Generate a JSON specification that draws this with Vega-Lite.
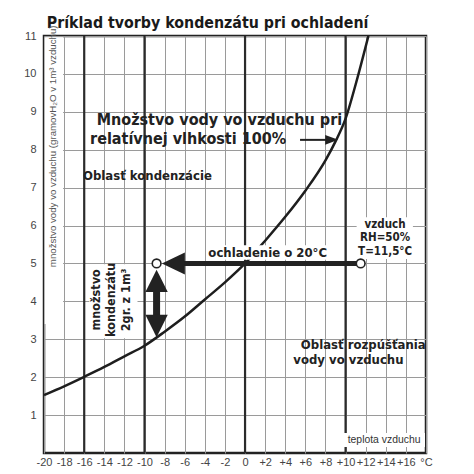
{
  "$schema": "https://vega.github.io/schema/vega-lite/v6.json",
  "width": 382,
  "height": 417,
  "autosize": {"type": "none"},
  "padding": {"left": 44, "top": 36, "right": 48, "bottom": 21},
  "background": "white",
  "config": {
    "view": {"stroke": "#222", "strokeWidth": 2.5},
    "axis": {
      "grid": true,
      "gridColor": "#9a9a9a",
      "gridWidth": 1,
      "ticks": false,
      "domain": false,
      "labelFont": "Liberation Sans Narrow, Liberation Sans",
      "labelFontSize": 11,
      "labelColor": "#444",
      "labelOverlap": false,
      "labelFlush": false,
      "title": null
    }
  },
  "datasets": {
    "curve": [
      {"t": -20, "v": 1.53}, {"t": -18, "v": 1.76}, {"t": -16, "v": 2.01},
      {"t": -14, "v": 2.27}, {"t": -12, "v": 2.55}, {"t": -10, "v": 2.83},
      {"t": -8, "v": 3.2}, {"t": -6, "v": 3.6}, {"t": -4, "v": 4.05},
      {"t": -2, "v": 4.5}, {"t": 0, "v": 5.0}, {"t": 2, "v": 5.6},
      {"t": 4, "v": 6.23}, {"t": 6, "v": 6.92}, {"t": 8, "v": 7.72},
      {"t": 9, "v": 8.22}, {"t": 10, "v": 8.82}, {"t": 11, "v": 9.72},
      {"t": 12.27, "v": 11.0}
    ],
    "thick": [{"t": -16}, {"t": -10}, {"t": 0}, {"t": 10}],
    "boxes": [
      {"a": -19.93, "b": -18.1, "lo": 3.4, "hi": 10.97},
      {"a": -15.5, "b": -10.7, "lo": 3.03, "hi": 4.98},
      {"a": 9.8, "b": 17.9, "lo": 0.16, "hi": 0.53},
      {"a": 11.1, "b": 16.7, "lo": 5.12, "hi": 6.22},
      {"a": -3.88, "b": 8.1, "lo": 5.1, "hi": 5.48}
    ],
    "heading": [{"t": -19.73, "v": 11.21, "label": "Príklad tvorby kondenzátu pri ochladení"}],
    "bigText": [
      {"t": -14.76, "v": 8.79, "label": "Množstvo vody vo vzduchu pri"},
      {"t": -15.42, "v": 8.28, "label": "relatívnej  vlhkosti 100%"}
    ],
    "midText": [
      {"t": -16.12, "v": 7.31, "label": "Oblasť kondenzácie"},
      {"t": -3.65, "v": 5.28, "label": "ochladenie o 20°C"},
      {"t": 5.55, "v": 2.85, "label": "Oblasť rozpúšťania"},
      {"t": 4.8, "v": 2.45, "label": "vody vo vzduchu"}
    ],
    "airText": [{"t": 13.93, "v": 6.02, "label": "vzduch\nRH=50%\nT=11,5°C"}],
    "condText": [{"t": -14.83, "v": 4.04, "label": "množstvo\nkondenzátu\n2gr. z 1m³"}],
    "axisNote": [{"t": 13.83, "v": 0.34, "label": "teplota vzduchu"}],
    "yTitle": [{"t": -19.15, "v": 8.09, "label": "množstvo vody vo vzduchu (gramovH₂O v 1m³ vzduchu)"}],
    "hShaft": [{"t1": -6.8, "t2": 11.5, "v": 5}],
    "vShaft": [{"t": -8.8, "v1": 4.3, "v2": 3.6}],
    "leftHead": [{"t": -7.13, "v": 5}],
    "upHead": [{"t": -8.8, "v": 4.54}],
    "downHead": [{"t": -8.8, "v": 3.35}],
    "smallShaft": [{"t1": 5.47, "t2": 8.2, "v": 8.26}],
    "rightHead": [{"t": 8.62, "v": 8.26}],
    "circles": [{"t": -8.8, "v": 5}, {"t": 11.5, "v": 5}]
  },
  "encoding": {
    "x": {
      "field": "t", "type": "quantitative",
      "scale": {"domain": [-20, 18], "nice": false, "zero": false},
      "axis": {
        "values": [-20, -18, -16, -14, -12, -10, -8, -6, -4, -2, 0, 2, 4, 6, 8, 10, 12, 14, 16, 18],
        "labelPadding": 3,
        "labelExpr": "datum.value == 18 ? '°C' : (datum.value > 0 ? '+' + datum.value : '' + datum.value)"
      }
    },
    "y": {
      "field": "v", "type": "quantitative",
      "scale": {"domain": [0, 11], "nice": false, "zero": false},
      "axis": {"values": [1, 2, 3, 4, 5, 6, 7, 8, 9, 10, 11], "labelPadding": 8}
    }
  },
  "layer": [
    {
      "data": {"name": "thick"},
      "mark": {"type": "rule", "color": "#2b2b2b", "strokeWidth": 2.2},
      "encoding": {"x": {"field": "t", "type": "quantitative"}, "y": null}
    },
    {
      "data": {"name": "curve"},
      "mark": {"type": "line", "interpolate": "monotone", "color": "#1e1e1e", "strokeWidth": 2.5, "clip": true}
    },
    {
      "data": {"name": "boxes"},
      "mark": {"type": "rect", "fill": "white", "stroke": null},
      "encoding": {
        "x": {"field": "a", "type": "quantitative"},
        "x2": {"field": "b"},
        "y": {"field": "lo", "type": "quantitative"},
        "y2": {"field": "hi"}
      }
    },
    {
      "data": {"name": "hShaft"},
      "mark": {"type": "rule", "color": "#222", "strokeWidth": 5},
      "encoding": {
        "x": {"field": "t1", "type": "quantitative"},
        "x2": {"field": "t2"},
        "y": {"field": "v", "type": "quantitative"}
      }
    },
    {
      "data": {"name": "vShaft"},
      "mark": {"type": "rule", "color": "#222", "strokeWidth": 7},
      "encoding": {
        "x": {"field": "t", "type": "quantitative"},
        "y": {"field": "v1", "type": "quantitative"},
        "y2": {"field": "v2"}
      }
    },
    {
      "data": {"name": "smallShaft"},
      "mark": {"type": "rule", "color": "#222", "strokeWidth": 2},
      "encoding": {
        "x": {"field": "t1", "type": "quantitative"},
        "x2": {"field": "t2"},
        "y": {"field": "v", "type": "quantitative"}
      }
    },
    {
      "data": {"name": "leftHead"},
      "mark": {"type": "point", "shape": "M-1,0L1,-0.95L1,0.95Z", "filled": true, "size": 529, "color": "#222", "opacity": 1}
    },
    {
      "data": {"name": "upHead"},
      "mark": {"type": "point", "shape": "M0,-1L1,1L-1,1Z", "filled": true, "size": 500, "color": "#222", "opacity": 1}
    },
    {
      "data": {"name": "downHead"},
      "mark": {"type": "point", "shape": "M0,1L1,-1L-1,-1Z", "filled": true, "size": 500, "color": "#222", "opacity": 1}
    },
    {
      "data": {"name": "rightHead"},
      "mark": {"type": "point", "shape": "M1,0L-1,-0.75L-1,0.75Z", "filled": true, "size": 169, "color": "#222", "opacity": 1}
    },
    {
      "data": {"name": "circles"},
      "mark": {"type": "point", "shape": "circle", "filled": true, "fill": "white", "stroke": "#222", "strokeWidth": 1.6, "size": 75, "opacity": 1}
    },
    {
      "data": {"name": "heading"},
      "mark": {"type": "text", "align": "left", "baseline": "alphabetic", "clip": false, "font": "DejaVu Sans Condensed, DejaVu Sans", "fontWeight": "bold", "fontSize": 15.8, "color": "#1a1a1a"},
      "encoding": {"text": {"field": "label"}}
    },
    {
      "data": {"name": "bigText"},
      "mark": {"type": "text", "align": "left", "baseline": "middle", "font": "DejaVu Sans Condensed, DejaVu Sans", "fontWeight": "bold", "fontSize": 16, "color": "#222"},
      "encoding": {"text": {"field": "label"}}
    },
    {
      "data": {"name": "midText"},
      "mark": {"type": "text", "align": "left", "baseline": "middle", "font": "DejaVu Sans Condensed, DejaVu Sans", "fontWeight": "bold", "fontSize": 13, "color": "#222"},
      "encoding": {"text": {"field": "label"}}
    },
    {
      "data": {"name": "airText"},
      "mark": {"type": "text", "align": "center", "baseline": "middle", "lineBreak": "\n", "lineHeight": 13.5, "font": "DejaVu Sans Condensed, DejaVu Sans", "fontWeight": "bold", "fontSize": 11.5, "color": "#222"},
      "encoding": {"text": {"field": "label"}}
    },
    {
      "data": {"name": "condText"},
      "mark": {"type": "text", "align": "center", "baseline": "middle", "angle": 270, "lineBreak": "\n", "lineHeight": 15, "font": "DejaVu Sans Condensed, DejaVu Sans", "fontWeight": "bold", "fontSize": 12.5, "color": "#222"},
      "encoding": {"text": {"field": "label"}}
    },
    {
      "data": {"name": "axisNote"},
      "mark": {"type": "text", "align": "center", "baseline": "middle", "font": "Liberation Sans Narrow, Liberation Sans", "fontSize": 10.4, "color": "#333"},
      "encoding": {"text": {"field": "label"}}
    },
    {
      "data": {"name": "yTitle"},
      "mark": {"type": "text", "align": "center", "baseline": "middle", "angle": 270, "font": "Liberation Sans Narrow, Liberation Sans", "fontSize": 9.7, "color": "#555"},
      "encoding": {"text": {"field": "label"}}
    }
  ]
}
